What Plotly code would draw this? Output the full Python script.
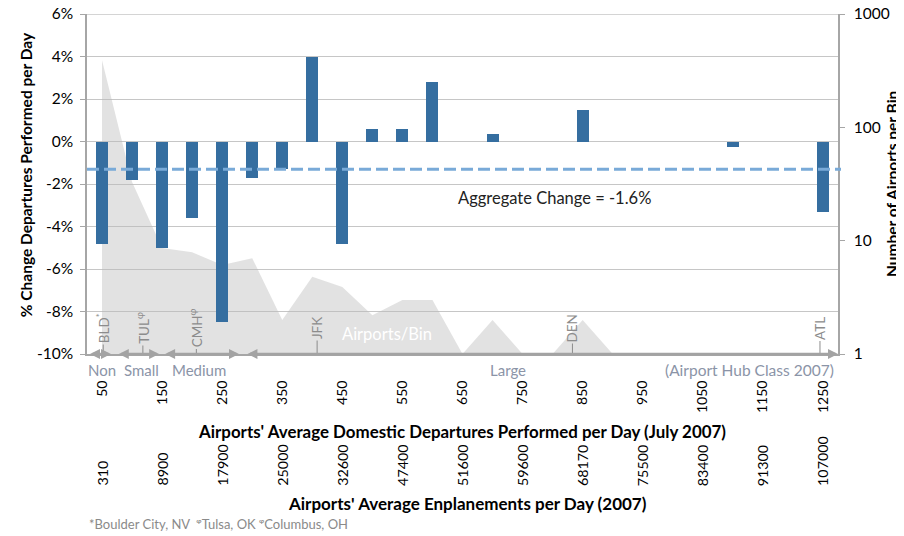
import plotly.graph_objects as go

# ---- data ----
BINS = [50, 100, 150, 200, 250, 300, 350, 400, 450, 500, 550, 600, 650,
        700, 750, 800, 850, 900, 950, 1000, 1050, 1100, 1150, 1200, 1250]
PCT_CHANGE = [-4.8, -1.8, -5.0, -3.6, -8.5, -1.7, -1.3, 4.0, -4.8, 0.6, 0.6, 2.8, 0,
              0.35, 0, 0, 1.5, 0, 0, 0, 0, -0.25, 0, 0, -3.3]
AIRPORTS_PER_BIN = [390, 33, 8.6, 7.9, 6.1, 7.0, 2.0, 4.8, 3.9, 2.2, 3.0, 3.0, 1,
                    2.0, 1, 1, 2.0, 1, 1, 1, 1, 1, 1, 1, 1]
AGG_CHANGE_LINE = -1.3
AGG_LABEL = "Aggregate Change = -1.6%"

DEP_TICKS = [50, 150, 250, 350, 450, 550, 650, 750, 850, 950, 1050, 1150, 1250]
ENPLANE_LABELS = ["310", "8900", "17900", "25000", "32600", "47400", "51600",
                  "59600", "68170", "75500", "83400", "91300", "107000"]

PCT_TICKS = [6, 4, 2, 0, -2, -4, -6, -8, -10]
COUNT_TICKS = [1, 10, 100, 1000]

AIRPORT_CODES = ["BLD<sup>*</sup>", "TUL<sup>φ</sup>", "CMH<sup>φ</sup>", "JFK", "DEN", "ATL"]
AIRPORT_DEP = [52, 118, 207, 408, 833, 1245]

HUB_CLASSES = ["Non", "Small", "Medium", "Large"]
HUB_START = [25, 73, 150, 287]
HUB_END = [65, 145, 278, 1275]
HUB_LABEL_X = [50, 115, 212, 725]

FONT = "Lato"
GRID = "#c6c6c6"
AXIS = "#a6a6a6"
HUBCOL = "#8b94a7"

fig = go.Figure()

# grey area: airports per bin (log axis, right)
fig.add_trace(go.Scatter(
    x=BINS + [BINS[-1], BINS[0]],
    y=AIRPORTS_PER_BIN + [COUNT_TICKS[0], COUNT_TICKS[0]],
    fill="toself", mode="lines", line=dict(width=0),
    fillcolor="rgba(185,185,185,0.42)", yaxis="y", hoverinfo="skip",
    showlegend=False))

# bars: % change (left axis)
fig.add_trace(go.Bar(
    x=BINS, y=PCT_CHANGE, width=20, yaxis="y2",
    marker=dict(color="#356ea0", line=dict(width=0)), showlegend=False))

# top gridline (plotly drops the grid line lying on the plot edge)
fig.add_shape(type="line", xref="paper", yref="y2", x0=0, x1=1,
              y0=PCT_TICKS[0], y1=PCT_TICKS[0],
              line=dict(color=GRID, width=1.3), layer="below")

fig.add_shape(type="line", xref="paper", yref="y2", x0=0, x1=1.004,
              y0=AGG_CHANGE_LINE, y1=AGG_CHANGE_LINE,
              line=dict(color="#79aad8", width=3, dash="12px,5px"), layer="above")

ann = []
ann.append(dict(x=803, y=-2.65, xref="x", yref="y2", text=AGG_LABEL, showarrow=False,
                font=dict(family=FONT, size=16.5, color="#222222")))
ann.append(dict(x=525, y=-9.05, xref="x", yref="y2", text="Airports/Bin", showarrow=False,
                font=dict(family=FONT, size=16.5, color="white")))

for code, xv in zip(AIRPORT_CODES, AIRPORT_DEP):
    ann.append(dict(x=xv, y=0, xref="x", yref="paper", text=code, showarrow=True,
                    arrowhead=0, arrowwidth=1, arrowcolor="#8c8c8c", ax=0, ay=-26,
                    axref="pixel", ayref="pixel", textangle=-90,
                    font=dict(family=FONT, size=13.5, color="#8c8c8c")))

for s, e in zip(HUB_START, HUB_END):
    ann.append(dict(x=e, y=0, xref="x", yref="paper", ax=s, ay=0, axref="x", ayref="pixel",
                    text=" ", showarrow=True, arrowside="end+start", arrowhead=2,
                    startarrowhead=2, arrowsize=0.8, startarrowsize=0.8, arrowwidth=2.5,
                    arrowcolor="#a3a3a3", standoff=0, startstandoff=0))

for name, xv in zip(HUB_CLASSES, HUB_LABEL_X):
    ann.append(dict(x=xv, y=-0.047, xref="x", yref="paper", xanchor="center", yanchor="middle",
                    text=name, showarrow=False,
                    font=dict(family=FONT, size=15, color=HUBCOL)))
ann.append(dict(x=1272, y=-0.047, xref="x", yref="paper", xanchor="right", yanchor="middle",
                text="(Airport Hub Class 2007)", showarrow=False,
                font=dict(family=FONT, size=15.5, color=HUBCOL)))

for xv, lab in zip(DEP_TICKS, ENPLANE_LABELS):
    ann.append(dict(x=xv, y=-0.394, xref="x", yref="paper", yanchor="bottom",
                    xanchor="center", text=lab, showarrow=False, textangle=-90,
                    font=dict(family=FONT, size=14.3, color="black")))

ann.append(dict(x=0.499, y=-0.229, xref="paper", yref="paper", showarrow=False,
                xanchor="center", yanchor="middle",
                text="<b>Airports' Average Domestic Departures Performed per Day (July 2007)</b>",
                font=dict(family=FONT, size=16.9, color="black")))
ann.append(dict(x=0.507, y=-0.441, xref="paper", yref="paper", showarrow=False,
                xanchor="center", yanchor="middle",
                text="<b>Airports' Average Enplanements per Day (2007)</b>",
                font=dict(family=FONT, size=17, color="black")))
ann.append(dict(x=0, y=-0.5, xref="paper", yref="paper", xanchor="left", yanchor="middle",
                showarrow=False,
                text="*Boulder City, NV  ᵠTulsa, OK ᵠColumbus, OH",
                font=dict(family=FONT, size=13, color="#8a8a8a")))
ann.append(dict(x=-0.0812, y=0.526, xref="paper", yref="paper", showarrow=False, textangle=-90,
                xanchor="center", yanchor="middle",
                text="<b>% Change Departures Performed per Day</b>",
                font=dict(family=FONT, size=15.5, color="black")))
ann.append(dict(x=1.072, y=0.50, xref="paper", yref="paper", showarrow=False, textangle=-90,
                xanchor="center", yanchor="middle",
                text="<b>Number of Airports per Bin</b>",
                font=dict(family=FONT, size=15.5, color="black")))

# the page body adds an 8px offset; margins compensate so the plot sits where the reference's does
fig.update_layout(
    width=904, height=536, autosize=False,
    margin=dict(l=79, r=74, t=6, b=190, autoexpand=False),
    paper_bgcolor="white", plot_bgcolor="white",
    bargap=0, showlegend=False,
    annotations=ann,
    xaxis=dict(range=[25, 1275], tickvals=DEP_TICKS, ticktext=[str(v) for v in DEP_TICKS],
               tickangle=-90, ticks="", showgrid=False, zeroline=False, automargin=False,
               showline=True, linecolor=AXIS, linewidth=2, ticklabelstandoff=19,
               tickfont=dict(family=FONT, size=14, color="black")),
    yaxis=dict(type="log", range=[0, 3], side="right", tickvals=COUNT_TICKS,
               ticktext=[str(v) for v in COUNT_TICKS], showgrid=False, zeroline=False,
               showline=True, linecolor=AXIS, linewidth=1.5, ticks="outside", ticklen=5,
               tickcolor=AXIS, ticklabelstandoff=6, automargin=False,
               ticklabeloverflow="allow",
               tickfont=dict(family=FONT, size=15.5, color="black")),
    yaxis2=dict(overlaying="y", side="left", anchor="x", range=[-10, 6], tickvals=PCT_TICKS,
                ticktext=[f"{v}%" for v in PCT_TICKS], showgrid=True, gridcolor=GRID,
                gridwidth=1.3, zeroline=False, showline=True, linecolor=AXIS, linewidth=1.5,
                ticks="outside", ticklen=5, tickcolor=AXIS, ticklabelstandoff=4,
                automargin=False, ticklabeloverflow="allow",
                tickfont=dict(family=FONT, size=15.5, color="black")),
)

fig.write_html("out.html")
